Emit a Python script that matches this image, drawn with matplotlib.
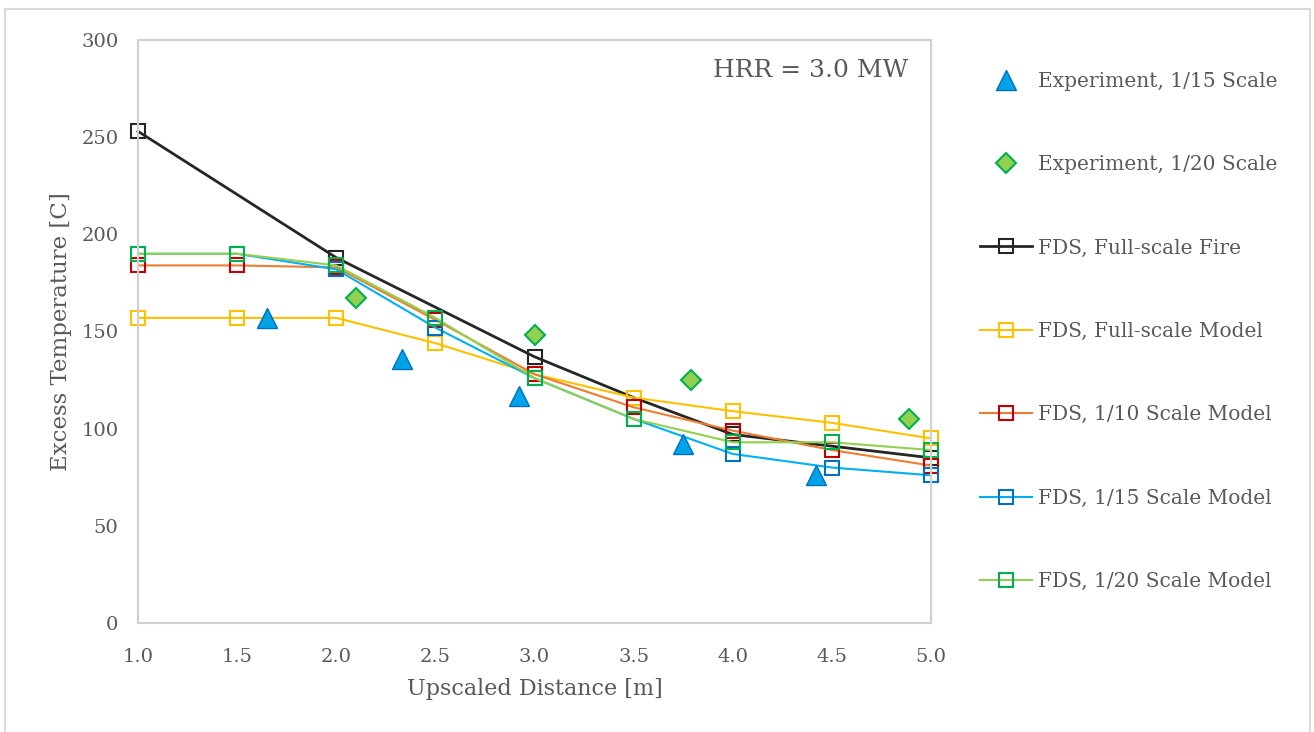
import matplotlib.pyplot as plt
from matplotlib.patches import Rectangle

# distances [m] for the FDS runs
x_fds = [1.0, 1.5, 2.0, 2.5, 3.0, 3.5, 4.0, 4.5, 5.0]
x_fire = [1.0, 2.0, 3.0, 3.5, 4.0, 4.5, 5.0]

# excess temperature [C]
t_fire = [253, 188, 137, 116, 97, 91, 85]
t_full_model = [157, 157, 157, 144, 128, 116, 109, 103, 95]
t_10_model = [184, 184, 183, 156, 128, 111, 99, 89, 81]
t_15_model = [190, 190, 182, 152, 126, 105, 87, 80, 76]
t_20_model = [190, 190, 184, 157, 126, 105, 93, 93, 89]

# experiments
x_exp15 = [1.65, 2.33, 2.92, 3.75, 4.42]
t_exp15 = [157, 136, 117, 92, 76]
x_exp20 = [2.10, 3.00, 3.79, 4.89]
t_exp20 = [167, 148, 125, 105]

x_ticks = [1.0, 1.5, 2.0, 2.5, 3.0, 3.5, 4.0, 4.5, 5.0]
y_ticks = [0, 50, 100, 150, 200, 250, 300]

text_color = "#595959"
frame_color = "#D0D0D0"
font = "DejaVu Serif"

fig = plt.figure(figsize=(13.14, 7.32), dpi=100)
fig.patches.append(Rectangle((5 / 1314, -0.01), 1305 / 1314, 1 - 9 / 732 + 0.01,
                             transform=fig.transFigure, fill=False,
                             edgecolor="#D9D9D9", linewidth=1.5))
ax = fig.add_axes([138 / 1314, 109 / 732, 793 / 1314, 583 / 732])

ax.plot(x_exp15, t_exp15, linestyle="none", marker="^", markersize=14,
        markerfacecolor="#00A3E8", markeredgecolor="#0070C0", markeredgewidth=1,
        label="Experiment, 1/15 Scale", zorder=5, clip_on=False)
ax.plot(x_exp20, t_exp20, linestyle="none", marker="D", markersize=10,
        markerfacecolor="#92D050", markeredgecolor="#00B050", markeredgewidth=1.5,
        label="Experiment, 1/20 Scale", zorder=5, clip_on=False)

sq = dict(marker="s", markersize=9.5, markerfacecolor="none", markeredgewidth=1.5,
          clip_on=False)
ax.plot(x_fire, t_fire, color="#262626", linewidth=2, markeredgecolor="#262626",
        label="FDS, Full-scale Fire", markevery=[0, 1, 2, 4, 6], **sq)
ax.plot(x_fds, t_full_model, color="#FFC000", linewidth=1.5, markeredgecolor="#FFC000",
        label="FDS, Full-scale Model", **sq)
ax.plot(x_fds, t_10_model, color="#ED7D31", linewidth=1.5, markeredgecolor="#C00000",
        label="FDS, 1/10 Scale Model", **sq)
ax.plot(x_fds, t_15_model, color="#00B0F0", linewidth=1.5, markeredgecolor="#0070C0",
        label="FDS, 1/15 Scale Model", **sq)
ax.plot(x_fds, t_20_model, color="#92D050", linewidth=1.5, markeredgecolor="#00B050",
        label="FDS, 1/20 Scale Model", **sq)

ax.set_xlim(1.0, 5.0)
ax.set_ylim(0, 300)
ax.set_xticks(x_ticks)
ax.set_xticklabels([f"{v:.1f}" for v in x_ticks])
ax.set_yticks(y_ticks)
ax.tick_params(length=0, labelsize=14, labelcolor=text_color)
ax.tick_params(axis="x", pad=18)
ax.tick_params(axis="y", pad=14)
for lbl in ax.get_xticklabels() + ax.get_yticklabels():
    lbl.set_fontfamily(font)
for s in ax.spines.values():
    s.set_color(frame_color)
    s.set_linewidth(1.5)

ax.set_xlabel("Upscaled Distance [m]", fontsize=16, color=text_color,
              family=font, labelpad=9)
ax.set_ylabel("Excess Temperature [C]", fontsize=16.5, color=text_color,
              family=font, labelpad=7)

ax.text(0.971, 0.948, "HRR = 3.0 MW", transform=ax.transAxes, ha="right", va="center",
        fontsize=18, color=text_color, family=font)

leg = ax.legend(loc="upper left", bbox_to_anchor=(1.044, 0.97), frameon=False,
                prop={"family": font, "size": 14.5}, labelspacing=3.2,
                handlelength=2.6, handletextpad=0.3, borderaxespad=0.3)
for t in leg.get_texts():
    t.set_color(text_color)

fig.savefig("out.png", dpi=100)
